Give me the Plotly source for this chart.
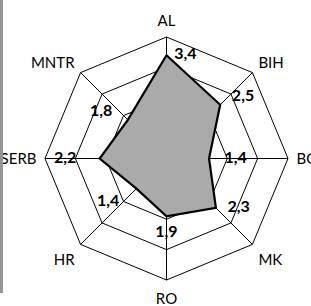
import plotly.graph_objects as go

categories = ["AL", "BIH", "BG", "MK", "RO", "HR", "SERB", "MNTR"]
values = [3.4, 2.5, 1.4, 2.3, 1.9, 1.4, 2.2, 1.8]
value_labels = ["3,4", "2,5", "1,4", "2,3", "1,9", "1,4", "2,2", "1,8"]

# label styling (not data)
label_positions = ["middle right", "top right", "middle right", "middle right",
                   "bottom center", "bottom left", "middle left", "top left"]
label_pads = [2, 3, 4, 3, 0, 3, 6, 4]
label_offsets = [0, 0, 0, 0, 12, 7, 0, 0]

W, H = 311, 306
NB = "\u00a0"


def padded(t, pos, n):
    if pos.endswith("right"):
        return NB * n + t
    if pos.endswith("left"):
        return t + NB * n
    return t


fig = go.Figure()
fig.add_trace(go.Scatterpolar(
    r=values + [values[0]],
    theta=categories + [categories[0]],
    mode="lines",
    fill="toself",
    fillcolor="rgb(170,170,170)",
    line=dict(color="black", width=2.2),
    hoverinfo="skip",
    showlegend=False,
))
fig.add_trace(go.Scatterpolar(
    r=values,
    theta=categories,
    mode="markers+text",
    marker=dict(size=label_offsets, opacity=0, color="black"),
    text=[padded(t, p, n) for t, p, n in zip(value_labels, label_positions, label_pads)],
    textposition=label_positions,
    textfont=dict(family="Lato", size=16, color="black", weight="bold"),
    hoverinfo="skip",
    showlegend=False,
))

fig.update_layout(
    width=W, height=H,
    margin=dict(l=0, r=0, t=0, b=0),
    paper_bgcolor="white",
    plot_bgcolor="white",
    font=dict(family="Lato", size=15, color="black"),
    polar=dict(
        bgcolor="white",
        gridshape="linear",
        domain=dict(x=[45 / W, 288 / W], y=[1 - 280.5 / H, 1 - 36.5 / H]),
        radialaxis=dict(
            range=[0, 4], dtick=1, showticklabels=False, ticks="",
            gridcolor="black", gridwidth=1, showline=False,
            layer="below traces",
        ),
        angularaxis=dict(
            rotation=90, direction="clockwise",
            categoryorder="array", categoryarray=categories,
            gridcolor="black", gridwidth=1,
            linecolor="black", linewidth=1,
            ticks="outside", ticklen=5, tickcolor="rgba(0,0,0,0)",
            tickfont=dict(family="Lato", size=15, color="black"),
            layer="above traces",
        ),
    ),
    shapes=[dict(type="rect", xref="paper", yref="paper",
                 x0=0, x1=3 / W, y0=1 - 293 / H, y1=1,
                 fillcolor="rgb(150,150,150)", line=dict(width=0), layer="above")],
)

fig.write_html("out.html",
               config={"displayModeBar": False},
               post_script="document.body.style.margin='0';document.body.style.overflow='hidden';")
